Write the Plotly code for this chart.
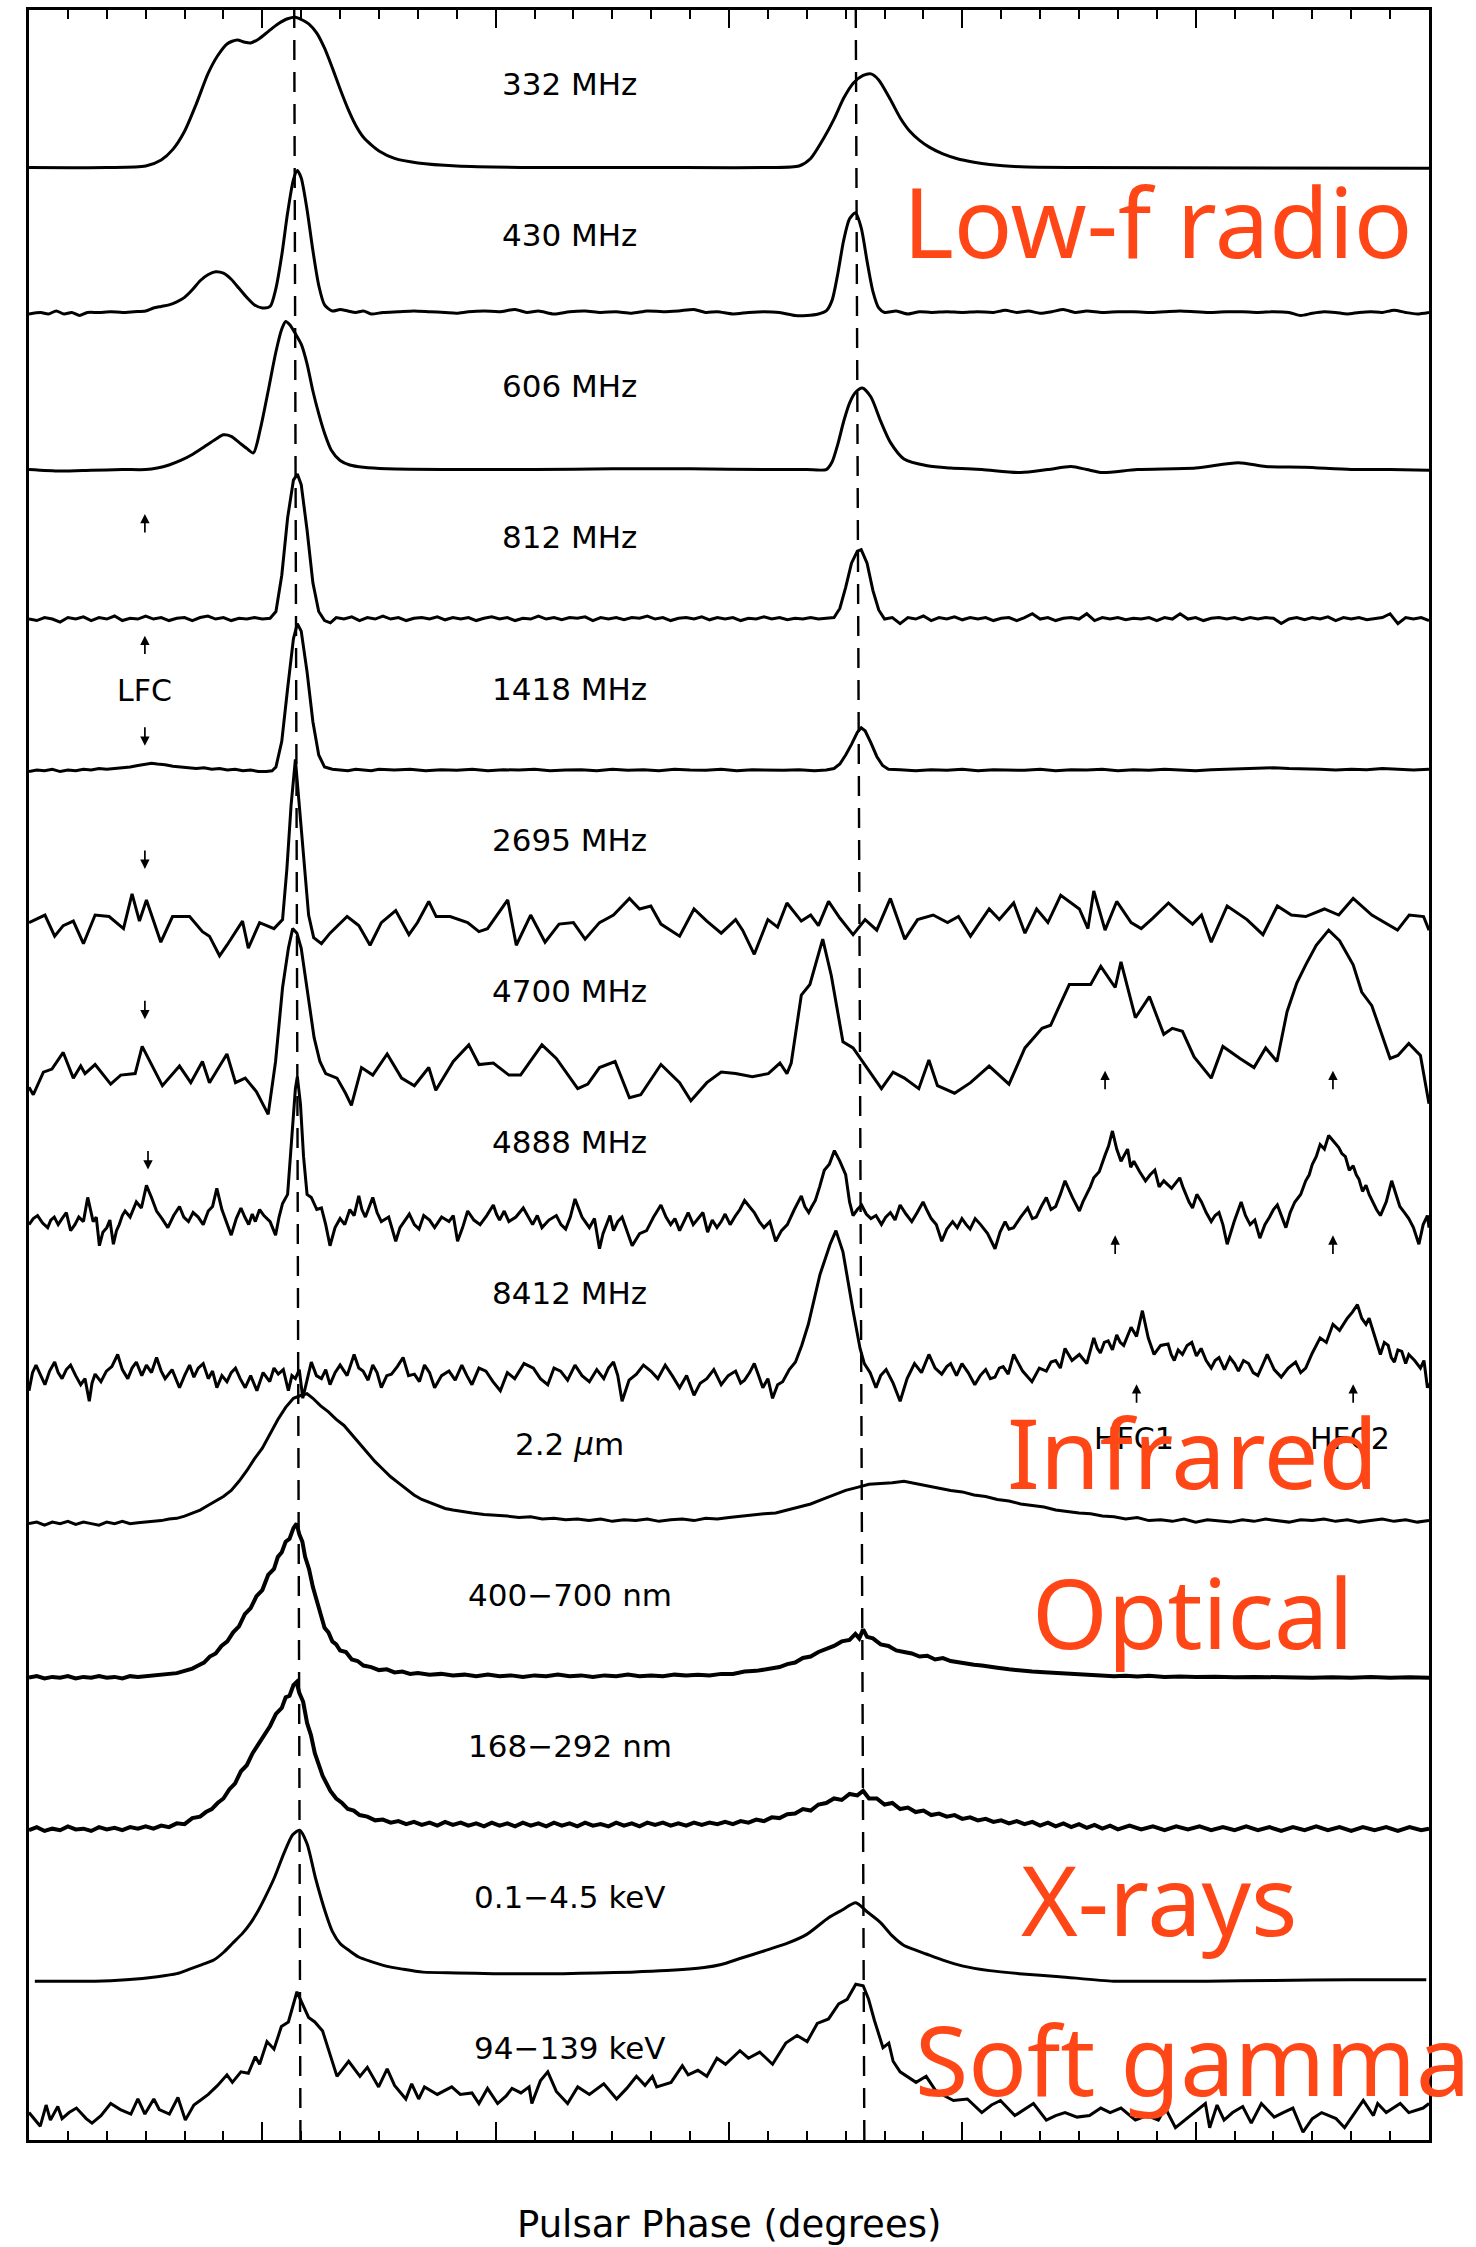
import plotly.graph_objects as go

# ---------------- data (phase in degrees, flux in units of the panel spacing) ----------------
LABELS = ["332 MHz", "430 MHz", "606 MHz", "812 MHz", "1418 MHz", "2695 MHz", "4700 MHz",
          "4888 MHz", "8412 MHz", "2.2 <i>μ</i>m", "400−700 nm", "168−292 nm",
          "0.1−4.5 keV", "94−139 keV"]

P332 = [(0,0),(20,0),(30,0.01),(34,0.05),(37,0.12),(40,0.24),(43,0.42),(46,0.62),(48.5,0.74),(51,0.82),
        (53.5,0.845),(55.5,0.83),(57,0.825),(59,0.85),(61.5,0.9),(64,0.95),(66.5,0.985),(68.5,0.995),(70,0.98),
        (72,0.95),(74,0.89),(76,0.79),(78,0.66),(80,0.52),(82,0.39),(84,0.28),(86,0.2),(88,0.15),(90,0.11),
        (94,0.06),(100,0.03),(110,0.01),(130,0),(160,0),(190,0),(198,0.01),(201,0.06),(204.5,0.2),(207,0.32),
        (209.5,0.46),(212,0.56),(214.5,0.61),(216.5,0.62),(218.5,0.58),(221.5,0.45),(224,0.33),(226.5,0.24),
        (229,0.18),(231.5,0.135),(235,0.09),(238.5,0.06),(243,0.035),(247,0.02),(255,0.005),(270,0),(360,-0.005)]

P430 = [(0,0.03),(3,0.04),(5,0.03),(7,0.05),(9,0.03),(11,0.04),(13,0.02),(15,0.04),(18,0.04),(21,0.045),(24,0.04),
        (27,0.045),(30,0.05),(32,0.07),(34,0.08),(36,0.09),(38,0.11),(40,0.14),(42,0.19),(44,0.25),(46,0.29),
        (48,0.31),(50,0.3),(52,0.26),(54,0.2),(56,0.14),(58,0.09),(60,0.07),(62,0.08),(63.5,0.2),(65,0.42),
        (66.5,0.7),(68,0.92),(69,0.98),(70,0.93),(71.5,0.72),(73,0.45),(74.5,0.22),(76,0.09),(78,0.05),(80,0.06),
        (82,0.05),(84,0.04),(86,0.05),(88,0.03),(91,0.04),(95,0.045),(99,0.05),(103,0.045),(107,0.04),(110,0.035),
        (113,0.045),(117,0.05),(121,0.045),(125,0.06),(128,0.04),(131,0.05),(135,0.03),(139,0.045),(143,0.05),
        (147,0.04),(151,0.045),(155,0.035),(159,0.05),(163,0.045),(167,0.05),(171,0.06),(174,0.04),(177,0.045),
        (181,0.03),(185,0.04),(189,0.045),(193,0.04),(197,0.02),(200,0.02),(203,0.03),(205,0.05),(206.5,0.12),
        (208,0.3),(209.5,0.52),(211,0.66),(212.5,0.7),(214,0.6),(215.5,0.38),(217,0.18),(218.5,0.07),(220,0.04),
        (223,0.05),(226,0.03),(229,0.045),(232,0.04),(236,0.045),(240,0.04),(244,0.045),(248,0.04),(251,0.055),
        (254,0.04),(257,0.05),(260,0.035),(263,0.045),(266,0.06),(269,0.04),(272,0.05),(276,0.04),(280,0.045),
        (284,0.045),(288,0.04),(292,0.045),(296,0.05),(300,0.045),(304,0.04),(308,0.045),(312,0.045),(316,0.04),
        (320,0.045),(324,0.04),(327,0.02),(330,0.035),(333,0.045),(336,0.04),(339,0.03),(342,0.04),(345,0.045),
        (348,0.04),(351,0.055),(354,0.04),(357,0.03),(360,0.04)]

P606 = [(0,0.0),(8,-0.01),(16,-0.005),(24,0.0),(30,0.0),(33,0.01),(36,0.03),(39,0.06),(42,0.1),(45,0.15),(48,0.2),
        (50,0.23),(52,0.22),(54,0.18),(56,0.14),(57.7,0.11),(59.5,0.27),(61.5,0.52),(63.5,0.78),(65,0.93),(66,0.98),
        (67,0.96),(68.5,0.9),(70,0.83),(71.5,0.7),(73,0.52),(74.5,0.37),(76,0.24),(77.7,0.13),(80,0.06),(82.5,0.03),
        (86,0.015),(92,0.005),(110,0.0),(130,0.0),(150,0.005),(170,0.005),(190,0.0),(200,0.0),(205,0.0),(206.5,0.05),
        (208,0.17),(209.5,0.32),(211,0.44),(212.5,0.51),(214.3,0.54),(216.5,0.48),(219,0.32),(221.5,0.18),(225,0.07),
        (231,0.025),(237,0.01),(245,0.0),(255,-0.02),(262,0.0),(268,0.02),(272,0.0),(276,-0.02),(285,0.0),(300,0.01),
        (311,0.045),(318,0.02),(328,0.015),(340,0.0),(350,0.0),(360,-0.005)]

P812 = [(0,0.01),(2,0.0),(4,0.02),(6,0.01),(8,-0.01),(10,0.02),(12,0.01),(14,0.025),(16,0.0),(18,0.02),(20,0.01),
        (22,0.03),(24,0.0),(26,0.015),(28,0.01),(30,0.03),(32,0.01),(34,0.02),(36,0.0),(38,0.015),(40,0.02),(42,0.0),
        (44,0.02),(46,0.03),(48,0.01),(50,0.02),(52,0.0),(54,0.015),(56,0.01),(58,0.02),(60,0.01),(62,0.015),
        (63.5,0.06),(65,0.3),(66.5,0.68),(68,0.93),(69,0.97),(70,0.9),(71.5,0.6),(73,0.25),(74.5,0.06),(76,0.0),
        (77.5,-0.015),(79,0.02),(81,0.01),(83,0.025),(85,0.0),(87,0.02),(89,0.01),(91,0.03),(93,0.01),(95,0.02),
        (97,0.0),(99,0.015),(101,0.02),(103,0.01),(105,0.025),(107,0.005),(109,0.02),(111,0.01),(113,0.02),(115,0.0),
        (117,0.015),(119,0.025),(121,0.01),(123,0.02),(125,0.0),(127,0.015),(129,0.01),(131,0.03),(133,0.01),
        (135,0.02),(137,0.005),(139,0.02),(141,0.015),(143,0.025),(145,0.0),(147,0.02),(149,0.01),(151,0.02),
        (153,0.005),(155,0.02),(157,0.015),(159,0.03),(161,0.01),(163,0.02),(165,0.0),(167,0.015),(169,0.02),
        (171,0.01),(173,0.025),(175,0.005),(177,0.02),(179,0.01),(181,0.02),(183,0.0),(185,0.015),(187,0.01),
        (189,0.025),(191,0.01),(193,0.02),(195,0.005),(197,0.015),(199,0.01),(201,0.02),(203,0.01),(205,0.015),
        (207,0.02),(208.5,0.08),(210,0.22),(211.5,0.38),(213,0.46),(214,0.47),(215.5,0.38),(217,0.2),(218.5,0.07),
        (220,0.01),(222,0.02),(224,-0.02),(226,0.02),(228,0.01),(230,0.03),(232,0.0),(234,0.02),(236,0.01),
        (238,0.025),(240,0.005),(242,0.02),(244,0.01),(246,0.02),(248,0.0),(250,0.015),(252,0.02),(254,0.0),
        (256,0.02),(258,0.045),(260,0.01),(262,0.02),(264,0.0),(266,0.015),(268,0.02),(270,0.01),(272,0.045),
        (274,0.0),(276,0.02),(278,0.01),(280,0.02),(282,0.005),(284,0.015),(286,0.01),(288,0.02),(290,0.0),
        (292,0.02),(294,0.01),(296,0.045),(298,0.01),(300,0.02),(302,0.0),(304,0.015),(306,0.02),(308,0.01),
        (310,0.02),(312,0.005),(314,0.02),(316,0.01),(318,0.02),(320,0.015),(322,-0.02),(324,0.01),(326,0.02),
        (328,0.005),(330,0.02),(332,0.01),(334,0.025),(336,0.0),(338,0.02),(340,0.01),(342,0.02),(344,0.005),
        (346,0.015),(348,0.02),(350,0.045),(352,-0.02),(354,0.02),(356,0.01),(358,0.02),(360,0.0)]

P1418 = [(0,0.0),(2,0.01),(4,0.005),(6,0.015),(8,0.0),(10,0.01),(12,0.005),(14,0.015),(16,0.01),(18,0.02),(20,0.015),
         (22,0.02),(24,0.025),(26,0.03),(28,0.04),(30,0.05),(31.5,0.055),(33,0.05),(35,0.045),(37,0.035),(39,0.03),
         (41,0.025),(43,0.02),(45,0.025),(47,0.015),(49,0.02),(51,0.01),(53,0.015),(55,0.005),(57,0.01),(59,0.0),
         (61,0.0),(62.5,0.005),(63.5,0.03),(65,0.2),(66.5,0.55),(68,0.88),(69,0.98),(70,0.93),(71.5,0.66),(73,0.33),
         (74.5,0.11),(76,0.03),(78,0.015),(80,0.01),(82,0.005),(84,0.015),(86,0.01),(88,0.005),(90,0.015),(94,0.01),
         (98,0.015),(102,0.005),(106,0.012),(110,0.008),(114,0.015),(118,0.005),(122,0.012),(126,0.01),(130,0.015),
         (134,0.005),(138,0.01),(142,0.012),(146,0.005),(150,0.015),(154,0.008),(158,0.012),(162,0.005),(166,0.015),
         (170,0.01),(174,0.008),(178,0.015),(182,0.005),(186,0.012),(190,0.01),(194,0.008),(198,0.012),(202,0.005),
         (205,0.01),(207,0.02),(208.5,0.05),(210,0.11),(211.5,0.18),(213,0.26),(214,0.29),(215,0.27),(216.5,0.19),
         (218,0.1),(219.5,0.04),(221,0.015),(224,0.012),(228,0.005),(232,0.012),(236,0.008),(240,0.015),(244,0.005),
         (248,0.012),(252,0.01),(256,0.008),(260,0.015),(264,0.005),(268,0.012),(272,0.01),(276,0.015),(280,0.005),
         (284,0.012),(288,0.008),(292,0.015),(296,0.01),(300,0.005),(304,0.012),(308,0.015),(312,0.02),(316,0.02),
         (320,0.025),(324,0.02),(328,0.02),(332,0.015),(336,0.01),(340,0.015),(344,0.012),(348,0.02),(352,0.015),
         (356,0.01),(360,0.015)]

P2695 = [(0,0.0),(4.1,0.05),(6.6,-0.09),(8.8,-0.02),(11.4,0.01),(14.0,-0.14),(17.0,0.05),(20.6,0.04),(24.3,-0.04),
         (26.5,0.19),(28.4,0.01),(30.2,0.15),(33.9,-0.13),(36.9,0.04),(41.3,0.04),(44.6,-0.06),(46.4,-0.09),
         (49.0,-0.22),(50.9,-0.15),(54.9,0.01),(56.4,-0.17),(59.3,0.0),(63.0,-0.04),(65.2,0.02),(66.3,0.35),
         (67.4,0.78),(68.5,1.08),(69.6,0.75),(70.8,0.35),(71.9,0.05),(73.2,-0.1),(75.2,-0.14),(77.4,-0.07),
         (81.8,0.04),(84.8,-0.02),(87.7,-0.15),(90.6,0.0),(94.3,0.08),(97.7,-0.08),(99.9,0.0),(102.8,0.14),
         (104.7,0.04),(108.3,0.04),(112.8,0.0),(115.7,-0.06),(117.9,-0.04),(123.1,0.15),(125.3,-0.15),(129.0,0.05),
         (132.7,-0.13),(136.3,-0.01),(140.0,0.0),(143.0,-0.11),(146.7,0.0),(150.3,0.05),(154.4,0.16),(157.0,0.09),
         (159.9,0.11),(162.5,-0.01),(167.3,-0.09),(171.0,0.09),(174.3,0.01),(178.0,-0.07),(181.7,0.02),
         (183.5,-0.05),(186.5,-0.21),(190,0.02),(192.5,-0.03),(194.9,0.13),(198.6,0.01),(201,0.05),(203,-0.02),
         (205.6,0.14),(208.5,0.03),(211.9,-0.08),(215,0.02),(218,-0.05),(221.5,0.16),(225.2,-0.11),(228.5,0.02),
         (232.5,0.05),(236.2,0.0),(239,0.04),(242.1,-0.09),(246.9,0.09),(249.5,0.02),(253.2,0.13),(256.1,-0.07),
         (259.1,0.09),(262,0.0),(265.3,0.18),(270.1,0.09),(272.3,-0.04),(273.8,0.21),(276.7,-0.05),(279.7,0.14),
         (283.4,0.0),(286.0,-0.04),(289,0.03),(293.0,0.13),(296,0.06),(299.2,-0.01),(301.5,0.05),(304.0,-0.13),
         (308.1,0.11),(313.2,0.02),(317.3,-0.08),(321.0,0.11),(324.6,0.05),(328.3,0.04),(333.1,0.09),(336.8,0.05),
         (340.5,0.16),(345.3,0.05),(351.9,-0.05),(354.9,0.05),(358.6,0.04),(360,-0.05)]

P4700 = [(0,-0.09),(1.1,-0.14),(3.7,0.01),(5.9,0.03),(8.8,0.14),(11.4,-0.03),(13.3,0.05),(14.4,0.0),(17.0,0.06),
         (21.0,-0.07),(23.6,-0.01),(27.3,0.0),(29.1,0.18),(31.3,0.07),(34.3,-0.08),(38.7,0.05),(41.6,-0.06),
         (44.6,0.08),(46.4,-0.06),(50.9,0.13),(53.1,-0.06),(55.6,-0.03),(58.5,-0.12),(61.5,-0.27),(63.4,0.08),
         (65.2,0.57),(66.7,0.83),(67.8,0.96),(68.9,0.93),(70.0,0.83),(71.5,0.55),(73.3,0.24),(74.8,0.08),(76.3,0.0),
         (79.2,-0.03),(81.4,-0.13),(82.9,-0.21),(85.5,0.04),(88.4,-0.01),(92.1,0.13),(95.8,-0.03),(99.1,-0.08),
         (102.8,0.04),(104.6,-0.11),(109.1,0.08),(113.1,0.19),(115.7,0.06),(119.4,0.07),(123.4,-0.01),(126.4,-0.01),
         (131.9,0.19),(135.6,0.1),(141.1,-0.1),(143.7,-0.07),(146.7,0.04),(150.7,0.08),(154.4,-0.16),(157.3,-0.14),
         (162.5,0.06),(167.3,-0.06),(170.2,-0.18),(174.3,-0.06),(178.0,0.01),(181.7,0.0),(186,-0.02),(190.1,0.0),
         (193.1,0.07),(194.9,0.0),(196.0,0.07),(198.6,0.52),(200.8,0.59),(202.5,0.75),(204.1,0.89),(206.3,0.65),
         (209.3,0.21),(211.9,0.17),(214.8,0.06),(219.2,-0.1),(222.2,0.01),(225.1,-0.03),(228.8,-0.1),(231.4,0.09),
         (233.6,-0.08),(238.0,-0.13),(242.1,-0.06),(246.9,0.05),(252.0,-0.07),(256.1,0.17),(260.5,0.3),(262.7,0.32),
         (265,0.45),(267.5,0.59),(273.0,0.59),(275.6,0.71),(279.3,0.57),(280.8,0.74),(284.5,0.37),(288.1,0.51),
         (291.8,0.26),(294,0.3),(296.6,0.28),(299.6,0.11),(304.0,-0.03),(307.0,0.18),(311.4,0.1),(315.0,0.04),
         (318.0,0.17),(320.9,0.08),(323.5,0.41),(326,0.6),(328.3,0.72),(331,0.85),(334.2,0.95),(337,0.88),
         (340.5,0.72),(342.7,0.54),(345.3,0.45),(348,0.25),(350.0,0.1),(352,0.12),(354.8,0.2),(357.8,0.12),(360,-0.2)]

P4888 = [(0,0.0),(1.1,0.04),(2.2,0.06),(3.5,0.01),(4.8,-0.02),(5.6,0.03),(6.5,0.05),(7.5,0.0),(8.5,0.04),(9.6,0.08),
         (10.7,-0.04),(11.8,0.0),(12.8,0.05),(14,0.02),(15.1,0.18),(16.5,0.02),(17.3,0.05),(18.1,-0.14),(19,-0.05),
         (20,-0.02),(20.8,0.03),(21.7,-0.13),(22.5,-0.04),(23.2,0.0),(24,0.06),(24.7,0.09),(26,0.05),(27.6,0.15),
         (28.9,0.11),(30.2,0.26),(31.5,0.18),(32.8,0.09),(34.2,0.04),(35.7,-0.02),(37.2,0.06),(38.7,0.12),(39.8,0.05),
         (41,0.02),(42.2,0.08),(43.5,0.05),(44.8,0.0),(46.1,0.09),(47.2,0.12),(48.3,0.24),(49.6,0.1),(50.9,0.0),
         (52.0,-0.07),(53.3,0.04),(54.5,0.11),(55.5,0.05),(56.5,0.0),(57.4,0.07),(58.2,0.02),(59.3,0.1),(60.4,0.06),
         (62,0.02),(63.4,-0.07),(64.3,0.05),(65.2,0.14),(66.5,0.2),(67.5,0.55),(68.5,0.9),(69,0.98),(69.8,0.8),
         (70.6,0.45),(71.5,0.2),(72.6,0.18),(74,0.1),(75.2,0.11),(76.3,0.0),(77.4,-0.14),(78.7,-0.02),(80.0,0.04),
         (81.2,0.0),(82.5,0.1),(83.6,0.06),(84.8,0.19),(85.6,0.1),(86.5,0.05),(87.5,0.12),(88.4,0.18),(89.5,0.08),
         (90.6,0.02),(92.5,0.05),(94.3,-0.11),(95.4,-0.02),(96.5,0.02),(97.8,0.07),(99.1,0.0),(100.3,-0.03),
         (101.5,0.06),(103,0.03),(104.3,-0.02),(106.1,0.05),(108.0,0.02),(109.1,0.06),(110.2,-0.11),(111.5,-0.02),
         (112.8,0.09),(114.4,0.03),(116,0.0),(117.7,0.06),(119.4,0.13),(120.2,0.07),(121,0.03),(122.2,0.09),
         (123.4,0.02),(125.2,0.05),(127.1,0.11),(128.3,0.05),(129.5,0.0),(130.7,0.06),(131.9,-0.02),(133.7,0.03),
         (135.6,0.06),(136.8,0.0),(138,-0.03),(139.2,0.05),(140.4,0.17),(142.2,0.05),(144.1,-0.02),(145.4,0.04),
         (146.7,-0.16),(147.6,-0.06),(148.5,0.0),(149.4,0.06),(150.3,-0.04),(151.4,0.02),(152.5,0.05),(153.8,-0.04),
         (155.1,-0.14),(157,-0.06),(158.8,-0.04),(160.6,0.05),(162.5,0.13),(163.8,0.05),(165,0.0),(166.1,0.04),
         (167.3,-0.04),(168.4,0.02),(169.5,0.08),(170.8,0.0),(172.1,0.04),(173.3,0.08),(174.5,-0.05),(175.7,0.03),
         (176.9,-0.02),(178,0.02),(179,0.07),(180.3,0.0),(181.7,0.06),(182.8,0.1),(184,0.16),(185.2,0.12),
         (186.5,0.08),(187.8,0.02),(189.0,-0.02),(190.5,0.02),(192.0,-0.11),(193.5,-0.04),(195.0,0.0),(196.8,0.1),
         (198.6,0.19),(199.5,0.12),(200.5,0.08),(201.3,0.12),(202.2,0.16),(203.3,0.25),(204.5,0.36),(205.8,0.4),
         (207.1,0.49),(208.5,0.42),(210.0,0.33),(211,0.15),(211.9,0.06),(213,0.1),(214.1,0.13),(215.3,0.07),
         (216.5,0.04),(217.8,0.06),(219.2,0.0),(220.3,0.05),(221.5,0.08),(222.7,0.03),(224.0,0.13),(225.5,0.07),
         (227,0.02),(228.4,0.08),(229.9,0.15),(231,0.09),(232,0.04),(233.3,0.0),(234.7,-0.11),(236,-0.03),
         (237.5,0.02),(238.7,-0.02),(239.9,0.04),(241,0.0),(242,-0.03),(243.3,0.04),(244.7,0.0),(246.5,-0.06),
         (248.4,-0.16),(249.7,-0.05),(251,0.02),(252,-0.03),(253.2,-0.02),(255,0.05),(256.8,0.11),(258,0.04),
         (259,0.05),(260.3,0.12),(261.6,0.18),(262.8,0.1),(264,0.12),(265.2,0.2),(266.4,0.29),(268.3,0.18),
         (270.1,0.09),(271,0.15),(272,0.2),(272.9,0.25),(273.8,0.31),(275.2,0.35),(276.7,0.46),(277.6,0.52),
         (278.6,0.62),(279.7,0.5),(280.8,0.42),(281.6,0.46),(282.5,0.5),(283.3,0.38),(284.1,0.42),(285.6,0.35),
         (287.1,0.29),(288.3,0.33),(289.5,0.36),(290.6,0.25),(291.8,0.29),(293.8,0.24),(295.9,0.31),(296.7,0.25),
         (297.5,0.2),(298.3,0.15),(299.2,0.11),(300.3,0.2),(301.5,0.15),(302.7,0.08),(304.0,0.02),(305,0.06),
         (306,0.08),(307,0.0),(308.1,-0.13),(309.9,0.02),(311.7,0.15),(312.8,0.06),(314,0.0),(315.2,0.03),
         (316.5,-0.09),(317.8,0.0),(319,0.05),(320,0.1),(321.0,0.13),(322.1,0.05),(323.2,-0.02),(324.3,0.08),
         (325.5,0.15),(327,0.2),(328.3,0.29),(329.2,0.33),(330,0.4),(331,0.45),(332.0,0.53),(333.1,0.5),(334.2,0.59),
         (335.5,0.55),(336.8,0.51),(337.6,0.47),(338.5,0.45),(339.5,0.36),(340.5,0.39),(341.3,0.33),(342,0.3),
         (342.9,0.22),(343.8,0.26),(344.6,0.2),(345.5,0.15),(346.5,0.1),(347.5,0.06),(349,0.15),(350.4,0.29),
         (351.5,0.2),(352.5,0.12),(353.7,0.08),(354.8,0.04),(356,-0.02),(357.4,-0.13),(358.5,0.0),(359.6,0.06),
         (360,-0.02)]

P8412 = [(0,-0.10),(0.9,0.02),(1.8,0.07),(3,0.0),(4.1,-0.06),(5.3,0.03),(6.6,0.09),(7.5,0.02),(8.5,-0.02),(9.6,0.04),
         (10.7,0.07),(12,0.0),(13.3,-0.06),(14.4,-0.02),(15.5,-0.17),(16.2,-0.05),(17.0,0.01),(18.5,-0.04),
         (19.9,0.03),(21.3,0.06),(22.8,0.14),(24,0.04),(25.4,-0.02),(26.5,0.05),(27.6,0.09),(29,0.0),(30.2,0.07),
         (31.5,0.02),(32.8,0.12),(34,0.03),(35.0,-0.02),(36.8,0.04),(38.7,-0.08),(40,0.0),(41.3,0.07),(42.4,-0.01),
         (43.5,0.05),(44.8,0.08),(46.1,-0.02),(47.2,0.03),(48.3,-0.08),(49.6,0.0),(50.9,-0.04),(52,0.02),(53.1,0.05),
         (54.3,-0.02),(55.6,-0.08),(57,0.0),(58.6,-0.10),(60.2,0.02),(61.9,-0.04),(63,0.05),(64.1,0.01),(65.4,0.04),
         (66.7,-0.10),(67.6,0.0),(68.5,-0.02),(69.5,0.04),(70.4,-0.15),(71.5,-0.03),(72.6,0.09),(73.9,0.0),
         (75.2,-0.02),(76.3,0.04),(77.4,-0.06),(78.7,0.02),(80.0,0.07),(81.8,0.0),(83.6,0.14),(84.8,0.05),(85.9,0.03),
         (87.2,-0.03),(88.4,0.07),(89.5,0.02),(90.6,-0.08),(92,0.0),(93.2,0.01),(94.7,0.06),(96.2,0.12),(97.6,0.0),
         (99.1,0.01),(100.4,-0.04),(101.7,0.07),(103,0.02),(104.3,-0.08),(106.1,0.0),(108.0,0.03),(109.6,-0.03),
         (111.3,0.07),(112.6,0.0),(113.9,-0.06),(115.7,0.05),(117.5,0.03),(119.3,-0.04),(121.2,-0.10),(123,0.02),
         (124.9,-0.02),(127.3,0.08),(129.7,0.05),(131.5,-0.02),(133.4,-0.06),(135,0.05),(136.7,0.03),(138.5,-0.03),
         (140.4,0.07),(142.2,0.0),(144.1,-0.04),(146,0.04),(147.8,-0.02),(149,0.05),(150.3,0.09),(151.4,0.0),
         (152.5,-0.17),(154.3,-0.03),(156.2,0.01),(158,0.07),(159.9,0.03),(161.7,-0.02),(163.6,0.07),(165.4,0.0),
         (167.3,-0.08),(169.1,0.0),(171.0,-0.13),(172.6,-0.05),(174.3,-0.02),(176.1,0.04),(178.0,-0.06),(179.8,0.0),
         (181.7,0.03),(183,-0.05),(184,-0.03),(185.3,0.02),(186.5,0.08),(187.6,0.0),(188.7,-0.08),(190,-0.02),
         (191.2,-0.15),(192.5,-0.06),(193.8,-0.04),(195.5,0.04),(197.1,0.09),(198.7,0.2),(200.4,0.34),(203.4,0.67),
         (206.0,0.87),(207.5,0.96),(209.3,0.82),(211.9,0.43),(213.7,0.18),(214.8,0.08),(216.3,0.02),(217.8,-0.08),
         (219,0.0),(220.4,0.04),(222.2,-0.05),(224.0,-0.17),(225.8,-0.02),(227.7,0.08),(229.5,0.02),(231.4,0.14),
         (233,0.05),(234.7,0.01),(236,0.06),(237,0.08),(238.5,0.0),(239.9,0.08),(241.5,0.02),(243.2,-0.06),
         (244.6,0.0),(246,0.04),(247.2,-0.02),(248.4,-0.01),(249.5,0.05),(250.5,0.06),(251.8,0.01),(253.2,0.14),
         (255.5,0.03),(257.9,-0.04),(259.8,0.05),(261.6,0.03),(262.8,0.09),(264,0.1),(265.2,0.05),(266.4,0.18),
         (268.2,0.1),(270.1,0.14),(272,0.08),(273.8,0.25),(274.7,0.18),(275.5,0.15),(276.5,0.22),(277.5,0.23),
         (278.6,0.17),(279.7,0.27),(280.6,0.22),(281.5,0.2),(282.5,0.26),(283.4,0.32),(284.8,0.26),(286.3,0.43),
         (287.8,0.25),(289.3,0.14),(291,0.2),(292.9,0.21),(293.7,0.14),(294.5,0.1),(295.5,0.17),(296.6,0.14),
         (297.8,0.2),(299,0.22),(300.2,0.13),(301.4,0.18),(302.7,0.1),(304.0,0.05),(305,0.1),(306,0.12),(307.4,0.04),
         (308.8,0.12),(310,0.08),(311,0.03),(312.3,0.1),(313.6,0.08),(314.8,0.02),(316,0.0),(317.2,0.07),(318.4,0.14),
         (320.2,0.04),(322.0,-0.01),(323.8,0.05),(325.7,0.09),(327,0.02),(328.3,0.05),(330,0.15),(332.0,0.25),
         (333.6,0.22),(335.3,0.34),(337,0.3),(339.0,0.38),(340.3,0.42),(341.6,0.47),(342.7,0.38),(343.8,0.34),
         (344.6,0.38),(345.5,0.3),(346.5,0.22),(347.5,0.14),(348.5,0.22),(349.5,0.2),(350.3,0.12),(351.1,0.09),
         (352,0.17),(353,0.16),(354,0.08),(354.8,0.14),(356.3,0.1),(357.8,0.05),(358.7,0.1),(359.6,-0.08),(360,-0.05)]

PIR = [(0,0.02),(2,0.03),(4,0.01),(6,0.03),(8,0.02),(10,0.035),(12,0.015),(14,0.03),(16,0.02),(18,0.01),(20,0.03),
       (22,0.02),(24,0.035),(26,0.02),(28,0.025),(30,0.03),(32,0.035),(34,0.04),(36,0.05),(38,0.055),(40,0.07),
       (42,0.09),(44,0.11),(46,0.14),(48,0.17),(50,0.2),(52,0.24),(54,0.3),(56,0.37),(58,0.45),(60,0.52),(62,0.62),
       (64,0.71),(66,0.79),(68,0.85),(70,0.87),(71.5,0.88),(73,0.85),(75,0.8),(77,0.76),(79,0.71),(81,0.67),
       (83,0.61),(85,0.55),(87,0.49),(89,0.43),(91,0.38),(93,0.33),(95,0.29),(97,0.25),(99,0.21),(101,0.18),
       (103,0.16),(105,0.14),(107,0.12),(109,0.11),(111,0.1),(114,0.09),(117,0.08),(120,0.075),(123,0.07),
       (126,0.06),(129,0.065),(132,0.05),(135,0.055),(138,0.045),(141,0.05),(144,0.04),(147,0.05),(150,0.035),
       (153,0.045),(156,0.04),(159,0.05),(162,0.035),(165,0.045),(168,0.05),(171,0.04),(174,0.055),(177,0.05),
       (180,0.06),(183,0.07),(186,0.075),(189,0.085),(192,0.09),(195,0.11),(198,0.13),(201,0.15),(204,0.18),
       (207,0.21),(210,0.24),(213,0.26),(216,0.28),(219,0.285),(222,0.29),(225,0.3),(228,0.285),(231,0.27),
       (234,0.255),(237,0.24),(240,0.23),(243,0.21),(246,0.2),(249,0.18),(252,0.17),(255,0.15),(258,0.14),
       (261,0.13),(264,0.11),(267,0.1),(270,0.09),(273,0.085),(276,0.07),(279,0.065),(282,0.05),(285,0.06),
       (288,0.04),(291,0.045),(294,0.035),(297,0.05),(300,0.03),(303,0.045),(306,0.04),(309,0.03),(312,0.045),
       (315,0.035),(318,0.05),(321,0.04),(324,0.03),(327,0.045),(330,0.04),(333,0.05),(336,0.035),(339,0.045),
       (342,0.03),(345,0.04),(348,0.05),(351,0.035),(354,0.045),(357,0.03),(360,0.04)]

POPT = [(0,0.0),(2,0.01),(4,-0.005),(6,0.005),(8,0.0),(10,0.01),(12,-0.005),(14,0.005),(16,0.0),(18,0.01),(20,0.0),
        (22,0.005),(24,-0.005),(26,0.01),(28,0.005),(30,0.01),(32,0.015),(34,0.02),(36,0.025),(38,0.03),(40,0.045),
        (42,0.06),(43.5,0.08),(45,0.1),(46.5,0.14),(48,0.16),(49.5,0.21),(51,0.24),(52.5,0.3),(54,0.34),(55.5,0.42),
        (57,0.46),(58.5,0.54),(60,0.58),(61.5,0.68),(63,0.72),(64,0.8),(65,0.83),(66,0.9),(67,0.92),(68,0.99),
        (68.8,1.02),(69.5,0.95),(70.3,0.9),(71,0.8),(72,0.72),(73,0.6),(74,0.5),(75,0.42),(76,0.33),(77,0.3),
        (78,0.24),(79,0.22),(80,0.18),(81.5,0.17),(83,0.12),(84.5,0.11),(86,0.08),(88,0.07),(90,0.05),(92,0.055),
        (94,0.035),(96,0.04),(98,0.025),(100,0.03),(103,0.02),(106,0.025),(109,0.015),(112,0.02),(115,0.01),
        (118,0.02),(121,0.01),(124,0.015),(127,0.005),(130,0.015),(133,0.01),(136,0.02),(139,0.01),(142,0.015),
        (145,0.005),(148,0.015),(151,0.01),(154,0.02),(157,0.01),(160,0.015),(163,0.01),(166,0.02),(169,0.015),
        (172,0.02),(175,0.015),(178,0.025),(181,0.025),(184,0.04),(187,0.045),(190,0.06),(193,0.07),(195,0.09),
        (197,0.1),(199,0.13),(201,0.14),(203,0.17),(205,0.19),(207,0.21),(209,0.24),(211,0.25),(212.5,0.29),
        (213.5,0.26),(214.5,0.32),(215.5,0.27),(217,0.26),(219,0.22),(221,0.21),(223,0.18),(225,0.17),(227,0.16),
        (229,0.14),(231,0.145),(233,0.12),(235,0.13),(237,0.11),(239,0.1),(241,0.095),(243,0.085),(245,0.08),
        (247,0.07),(249,0.065),(252,0.055),(255,0.045),(258,0.04),(261,0.035),(264,0.03),(267,0.025),(270,0.02),
        (273,0.02),(276,0.015),(279,0.01),(282,0.012),(285,0.008),(288,0.012),(292,0.005),(296,0.008),(300,0.004),
        (305,0.006),(310,0.002),(315,0.005),(320,0.002),(325,0.004),(330,0.0),(335,0.003),(340,0.0),(345,0.004),
        (350,0.0),(355,0.003),(360,0.0)]

PUV = [(0,-0.01),(2,0.01),(4,-0.015),(6,0.0),(8,-0.01),(10,0.015),(12,-0.005),(14,0.0),(16,-0.015),(18,0.01),
       (20,-0.005),(22,0.005),(24,-0.01),(26,0.01),(28,0.0),(30,0.015),(32,0.0),(34,0.02),(36,0.01),(38,0.035),
       (40,0.03),(42,0.07),(44,0.08),(45.5,0.11),(47,0.13),(48.5,0.17),(50,0.2),(51.5,0.26),(53,0.3),(54.5,0.38),
       (56,0.42),(57.5,0.5),(59,0.56),(60.5,0.62),(62,0.68),(63.5,0.76),(65,0.8),(66,0.87),(67,0.88),(68,0.95),
       (68.8,0.97),(69.5,0.9),(70.5,0.84),(71.5,0.7),(72.5,0.62),(73.5,0.5),(74.5,0.43),(75.5,0.35),(76.5,0.3),
       (77.5,0.25),(79,0.2),(80.5,0.17),(82,0.13),(83.5,0.12),(85,0.09),(87,0.08),(89,0.055),(91,0.06),(93,0.04),
       (95,0.05),(97,0.03),(99,0.045),(101,0.025),(103,0.04),(105,0.02),(107,0.045),(109,0.025),(111,0.04),
       (113,0.02),(115,0.035),(117,0.015),(119,0.04),(121,0.02),(123,0.035),(125,0.015),(127,0.04),(129,0.02),
       (131,0.035),(133,0.015),(135,0.04),(137,0.02),(139,0.035),(141,0.015),(143,0.04),(145,0.02),(147,0.03),
       (149,0.015),(151,0.04),(153,0.02),(155,0.035),(157,0.015),(159,0.04),(161,0.025),(163,0.04),(165,0.02),
       (167,0.035),(169,0.02),(171,0.04),(173,0.025),(175,0.04),(177,0.03),(179,0.045),(181,0.03),(183,0.05),
       (185,0.04),(187,0.06),(189,0.05),(191,0.075),(193,0.07),(195,0.095),(197,0.1),(199,0.13),(201,0.12),
       (203,0.16),(205,0.17),(207,0.2),(209,0.19),(211,0.23),(213,0.22),(214.5,0.25),(216,0.2),(218,0.2),
       (220,0.16),(222,0.17),(224,0.13),(226,0.14),(228,0.11),(230,0.12),(232,0.09),(234,0.1),(236,0.08),
       (238,0.09),(240,0.065),(242,0.075),(244,0.055),(246,0.065),(248,0.045),(250,0.055),(252,0.035),(254,0.05),
       (256,0.03),(258,0.045),(260,0.02),(262,0.04),(264,0.015),(266,0.035),(268,0.01),(270,0.03),(272,0.005),
       (274,0.025),(276,0.0),(278,0.02),(280,-0.005),(283,0.02),(286,-0.005),(289,0.015),(292,-0.01),(295,0.015),
       (298,-0.005),(301,0.015),(304,-0.01),(307,0.01),(310,-0.01),(313,0.015),(316,-0.01),(319,0.01),
       (322,-0.015),(325,0.01),(328,-0.01),(331,0.015),(334,-0.01),(337,0.01),(340,-0.015),(343,0.01),(346,-0.01),
       (349,0.01),(352,-0.015),(355,0.01),(358,-0.01),(360,0.0)]

PXR = [(1.5,-0.01),(10,-0.01),(17,-0.01),(25,0.0),(33,0.02),(38,0.04),(41.3,0.07),(44.5,0.1),(47.5,0.13),(50,0.18),
       (52.3,0.24),(55,0.31),(57.1,0.38),(59,0.46),(60.8,0.55),(63,0.67),(65.6,0.84),(67.8,0.96),(69.6,0.99),
       (71.5,0.9),(73.7,0.67),(76.3,0.44),(78,0.32),(80,0.24),(82.5,0.19),(84.8,0.15),(88,0.12),(91.8,0.09),
       (96,0.07),(101.3,0.05),(110,0.045),(119.4,0.04),(128,0.04),(137.4,0.04),(146,0.045),(154.8,0.05),(164,0.06),
       (173.6,0.08),(178,0.1),(182.8,0.14),(189,0.19),(194.9,0.24),(200,0.3),(205.6,0.41),(209,0.46),(212.6,0.51),
       (215.5,0.45),(218.9,0.38),(222,0.29),(224.8,0.23),(227.5,0.2),(230.7,0.17),(235,0.13),(240.2,0.09),
       (247,0.06),(254.6,0.04),(265,0.02),(278.9,-0.01),(290,-0.01),(302.9,-0.01),(320,-0.005),(340,0.0),(359.3,0.0)]

PGAM = [(0,0.12),(2.9,0.03),(4.4,0.17),(5.5,0.07),(7.4,0.16),(8.5,0.08),(10.3,0.12),(12.2,0.15),(14.7,0.08),
        (16.2,0.05),(18.5,0.1),(21.0,0.18),(23.5,0.14),(26.2,0.11),(28.0,0.21),(29.8,0.11),(32.1,0.21),(33.5,0.14),
        (36.1,0.11),(38.3,0.22),(40.2,0.07),(42.4,0.17),(44,0.2),(46.1,0.24),(48.5,0.3),(50.9,0.37),(52.3,0.32),
        (54.5,0.39),(56.4,0.38),(58.2,0.49),(59.3,0.44),(61.2,0.59),(63.0,0.54),(64.9,0.69),(66.7,0.72),(68.9,0.92),
        (71.9,0.75),(73.5,0.72),(75.5,0.66),(76.6,0.57),(79.2,0.36),(82.2,0.46),(85.1,0.36),(87.0,0.42),(89.9,0.29),
        (92.1,0.41),(94.0,0.3),(96.9,0.21),(98.4,0.31),(100.2,0.21),(101.7,0.29),(105.0,0.24),(108.7,0.29),
        (110.9,0.24),(113.9,0.25),(115.7,0.18),(117.9,0.28),(120.5,0.18),(122.7,0.23),(124.2,0.28),(126.5,0.25),
        (128.6,0.29),(129.3,0.18),(131.5,0.33),(133.4,0.39),(135.6,0.26),(138.5,0.18),(141.1,0.29),(144.1,0.24),
        (147.8,0.31),(151.1,0.21),(153.7,0.28),(156.2,0.36),(158.4,0.3),(160.3,0.36),(161.4,0.29),(165.1,0.32),
        (168.0,0.43),(169.5,0.37),(172,0.4),(174.3,0.36),(176.9,0.48),(179.1,0.44),(182.8,0.53),(185.0,0.48),
        (187.9,0.52),(191.2,0.44),(194.6,0.58),(197.5,0.63),(200.1,0.59),(202.7,0.71),(205.6,0.74),(208.2,0.84),
        (210.4,0.87),(212.6,0.97),(214.5,0.96),(215.9,0.87),(217.4,0.73),(219.6,0.55),(221.1,0.58),(222.2,0.46),
        (224.0,0.39),(225.9,0.36),(228.1,0.32),(230.7,0.36),(233,0.27),(235.5,0.23),(237.7,0.2),(241.3,0.21),
        (245.0,0.12),(247.5,0.17),(249.8,0.2),(253.5,0.1),(256,0.14),(258.3,0.18),(261.6,0.07),(264,0.1),
        (266.4,0.12),(269.5,0.09),(272.7,0.1),(275.6,0.15),(278,0.12),(280.8,0.15),(284.5,0.07),(287.5,0.1),
        (290.4,0.07),(292.2,0.15),(294.8,0.02),(298.8,0.1),(302.5,0.18),(303.6,0.02),(305.5,0.17),(307.3,0.07),
        (309.5,0.12),(312.1,0.16),(314.3,0.05),(316.9,0.18),(320.2,0.09),(322.5,0.12),(325.0,0.15),(327.6,-0.01),
        (330,0.08),(332.4,0.12),(336.1,0.08),(338.3,0.02),(340.5,0.1),(343.1,0.2),(345.7,0.1),(346.8,0.18),
        (349.0,0.12),(352.6,0.18),(354.8,0.12),(358.5,0.15),(360,0.18)]

PROFILES = [P332, P430, P606, P812, P1418, P2695, P4700, P4888, P8412, PIR, POPT, PUV, PXR, PGAM]

# pulse reference lines (phase at bottom and top of the frame; scan is slightly tilted)
MAIN_PULSE = (69.8, 68.2)
INTER_PULSE = (214.8, 212.6)

# component markers: (phase, tip, tail) in stacked units
ARROWS = [(29.8, 10.706, 10.573), (29.8, 9.90, 9.768), (29.8, 9.171, 9.303), (29.8, 8.355, 8.488),
          (29.8, 7.360, 7.493), (276.7, 7.019, 6.886), (335.3, 7.019, 6.886), (30.6, 6.365, 6.498),
          (279.3, 5.929, 5.796), (335.3, 5.929, 5.796), (284.8, 4.943, 4.810), (340.5, 4.943, 4.810)]
SMALL_TEXT = [("LFC", 29.8, 9.54), ("HFC1", 284.1, 4.583), ("HFC2", 339.8, 4.583)]
BAND_TEXT = [("Low-f radio", 290.3, 12.65), ("Infrared", 299.2, 4.50), ("Optical", 299.2, 3.44),
             ("X-rays", 290.7, 1.54), ("Soft gamma", 299.2, 0.48)]

# ---------------- figure ----------------
SMOOTH = {0, 1, 2, 12}
WIDE = {10, 11}
N = len(PROFILES)
YMIN, YMAX = -0.0616, 14.043

fig = go.Figure()
for i, prof in enumerate(PROFILES):
    off = N - 1 - i
    xs = [p for p, _ in prof]
    ys = [v + off for _, v in prof]
    line = dict(color="black", width=4.0 if i in WIDE else 3.0)
    if i in SMOOTH:
        line.update(shape="spline", smoothing=0.7)
    fig.add_trace(go.Scatter(x=xs, y=ys, mode="lines", line=line, showlegend=False, hoverinfo="skip"))

for xb, xt in (MAIN_PULSE, INTER_PULSE):
    fig.add_shape(type="line", x0=xb, x1=xt, y0=YMIN, y1=YMAX, xref="x", yref="y",
                  line=dict(color="black", width=2.4, dash="20px,12px"), layer="above")

ann = []
for i, lab in enumerate(LABELS):
    ann.append(dict(x=139, y=N - 1 - i + 0.55, text=lab, showarrow=False, xanchor="center", yanchor="middle",
                    font=dict(family="DejaVu Sans", size=31, color="black")))
for x, tip, tail in ARROWS:
    ann.append(dict(x=x, y=tip, ax=x, ay=tail, axref="x", ayref="y", text="", showarrow=True,
                    arrowhead=2, arrowsize=1.1, arrowwidth=1.7, arrowcolor="black", standoff=0))
for t, x, y in SMALL_TEXT:
    ann.append(dict(x=x, y=y, text=t, showarrow=False, xanchor="center", yanchor="middle",
                    font=dict(family="DejaVu Sans", size=30, color="black")))
ann.append(dict(x=0.5, y=-0.0397, xref="paper", yref="paper", text="Pulsar Phase (degrees)", showarrow=False,
                xanchor="center", yanchor="middle", font=dict(family="DejaVu Sans", size=37, color="black")))
for t, x, y in BAND_TEXT:
    ann.append(dict(x=x, y=y, text=t, showarrow=False, xanchor="center", yanchor="middle",
                    font=dict(family="Noto Sans", size=97, color="#ff4616")))

fig.update_layout(
    width=1476, height=2247,
    margin=dict(l=29, r=47, t=7, b=107),
    paper_bgcolor="white", plot_bgcolor="white",
    annotations=ann,
    xaxis=dict(range=[0, 360], showgrid=False, zeroline=False, showline=True, linecolor="black", linewidth=2.5,
               mirror="ticks", ticks="inside", tickmode="linear", tick0=0, dtick=60, ticklen=18, tickwidth=2,
               tickcolor="black", showticklabels=False,
               minor=dict(ticks="inside", tickmode="linear", tick0=0, dtick=10, ticklen=9, tickwidth=2,
                          tickcolor="black", showgrid=False)),
    yaxis=dict(range=[YMIN, YMAX], showgrid=False, zeroline=False, showline=True, linecolor="black",
               linewidth=2.5, mirror=True, ticks="", showticklabels=False),
)

fig.write_html("out.html")
